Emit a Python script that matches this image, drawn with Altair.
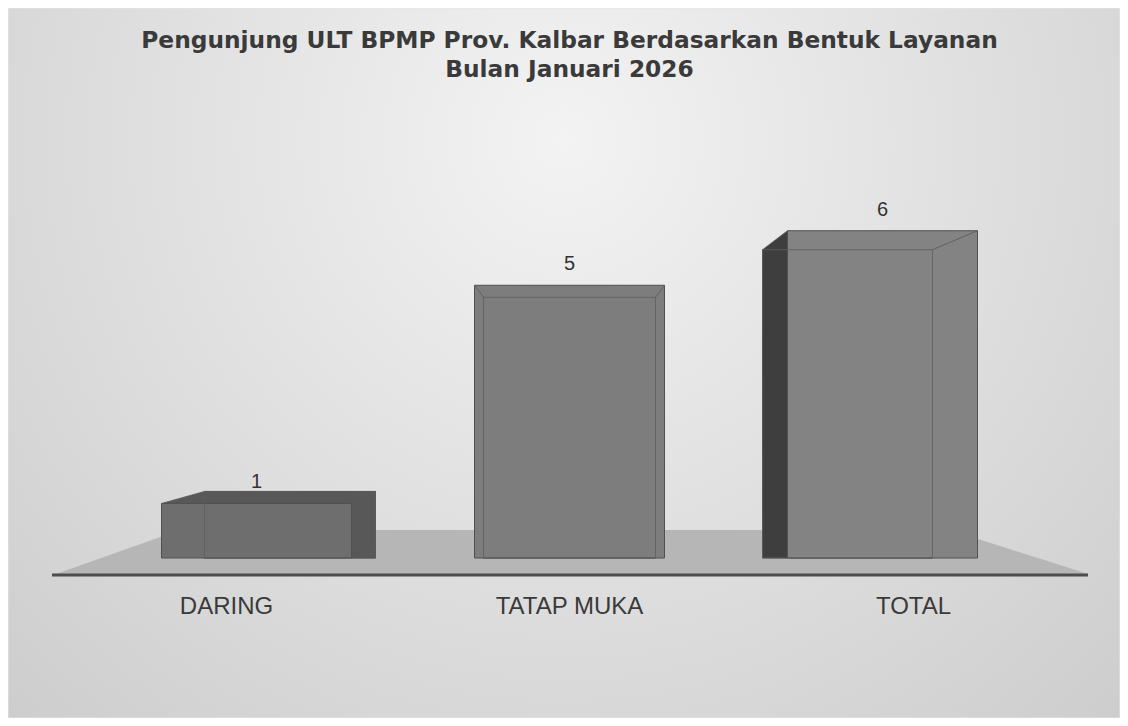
import altair as alt
import pandas as pd

categories = ["DARING", "TATAP MUKA", "TOTAL"]
values = [1, 5, 6]
title_lines = ["Pengunjung ULT BPMP Prov. Kalbar Berdasarkan Bentuk Layanan",
               "Bulan Januari 2026"]

df = pd.DataFrame({"category": categories, "value": values})

W, H = 939, 360
BAR_W = 190
HALF = BAR_W / 2
# 3D box styling per bar (pixel offsets of the back face relative to the front face)
box_style = {
    "DARING": dict(dx=33.5, bw=171, top=-12, bot=-18, front="#6e6e6e", back="#585858"),
    "TATAP MUKA": dict(dx=0, bw=172, top=12, bot=-16, front="#7d7d7d", back="#6a6a6a"),
    "TOTAL": dict(dx=-35, bw=170, top=19, bot=-18, front="#838383", back="#3e3e3e"),
}

label_shift = {"expr": "datum.value == 'DARING' ? -30 : (datum.value == 'TOTAL' ? 31 : 0)"}

x_enc = alt.X("category:N", sort=categories,
              scale=alt.Scale(paddingInner=0, paddingOuter=0),
              axis=alt.Axis(title=None, domain=False, ticks=False, tickSize=0,
                            labelFont="Liberation Sans", labelFontSize=24,
                            labelColor="#3a3a3a", labelPadding=36, labelAngle=0,
                            labelOffset=label_shift, grid=False, zindex=1))
y_enc = alt.Y("value:Q", stack=None, scale=alt.Scale(domain=[0, 6.6]), axis=None)

base = alt.Chart(df).encode(x=x_enc, y=y_enc)

one = alt.Data(values=[{}])

background = alt.Chart(one).mark_rect(
    fill={"gradient": "radial", "x1": 0.5, "y1": 0.3, "x2": 0.5, "y2": 0.3,
          "r1": 0, "r2": 0.8,
          "stops": [{"offset": 0, "color": "#f3f3f3"},
                    {"offset": 1, "color": "#c9c9c9"}]},
    stroke="#e6e6e6", strokeWidth=1
).encode(x=alt.value(-92), x2=alt.value(1020), y=alt.value(-190), y2=alt.value(520))

floor = alt.Chart(one).mark_point(
    shape="M-514,22 L518,22 L380,-22 L-390,-22 Z", size=4, filled=True,
    color="#b6b6b6", opacity=1, strokeWidth=0
).encode(x=alt.value(470), y=alt.value(354))

baseline = alt.Chart(one).mark_rule(color="#4d4d4d", strokeWidth=3).encode(
    x=alt.value(-48), x2=alt.value(988), y=alt.value(377))

back_layers, tri_layers, front_layers, outline_layers = [], [], [], []
for cat in categories:
    s = box_style[cat]
    sel = base.transform_filter(alt.datum.category == cat)
    bl = s["dx"] - s["bw"] / 2
    br = s["dx"] + s["bw"] / 2
    back_layers.append(sel.mark_bar(width=s["bw"], xOffset=s["dx"], yOffset=s["top"],
                                    y2Offset=s["bot"], color=s["back"],
                                    stroke="#4a4a4a", strokeWidth=1))
    # fill the slanted corners between front and back faces
    if bl > -HALF:
        top_tri = f"M{-HALF},0 L{bl},{s['top']} L{bl},0 Z"
    else:
        top_tri = f"M{bl},{s['top']} L{-HALF},0 L{-HALF},{s['top']} Z"
    if br > HALF:
        bot_tri = f"M{HALF},0 L{br},{s['bot']} L{HALF},{s['bot']} Z"
    else:
        bot_tri = f"M{bl},{s['bot']} L{-HALF},0 L{-HALF},{s['bot']} Z"
    if cat != "TATAP MUKA":
        tri_layers.append(sel.mark_point(shape=top_tri, size=4, filled=True,
                                         color=s["back"], opacity=1, strokeWidth=0))
        zero_sel = alt.Chart(df).transform_filter(alt.datum.category == cat).encode(
            x=x_enc, y=alt.Y("zero:Q", scale=alt.Scale(domain=[0, 6.6]), axis=None)
        ).transform_calculate(zero="0")
        tri_layers.append(zero_sel.mark_point(shape=bot_tri, size=4, filled=True,
                                              color=s["back"], opacity=1, strokeWidth=0))
    front_layers.append(sel.mark_bar(width=BAR_W, color=s["front"],
                                     stroke="#505050", strokeWidth=1))
    outline_layers.append(sel.mark_bar(width=s["bw"], xOffset=s["dx"], yOffset=s["top"],
                                       y2Offset=s["bot"], fillOpacity=0,
                                       stroke="#5e5e5e", strokeOpacity=0.8, strokeWidth=1))
    diag = (f"M{-HALF},0 L{bl},{s['top']} M{HALF},0 L{br},{s['top']}")
    outline_layers.append(sel.mark_point(shape=diag, size=4, filled=False,
                                         color="#5a5a5a", opacity=0.8, strokeWidth=1))

labels = base.mark_text(dy=-15, baseline="alphabetic", font="Liberation Sans",
                        fontSize=20, color="#333333").encode(text="value:Q")

chart = alt.layer(
    background, floor, baseline, *back_layers, *tri_layers, *front_layers,
    *outline_layers, labels
).properties(
    width=W, height=H,
    title=alt.TitleParams(text=title_lines, font="DejaVu Sans", fontSize=23.3,
                          fontWeight="bold", color="#3a3a3a", anchor="middle",
                          frame="group", offset=-75, lineHeight=29, zindex=1),
    padding={"left": 92, "top": 190, "right": 81, "bottom": 160},
    autosize=alt.AutoSizeParams(type="none"),
).configure_view(stroke=None).configure(background="#d8d8d8")

chart.save("out.html", embed_options={"renderer": "svg", "actions": False})
